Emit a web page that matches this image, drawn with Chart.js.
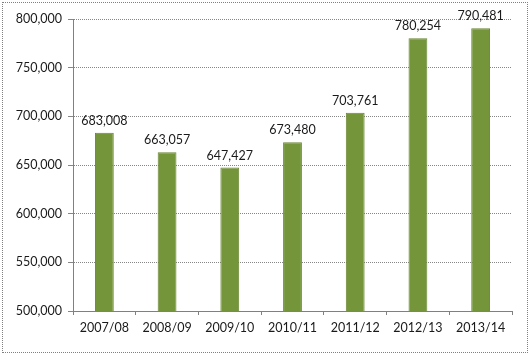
<!DOCTYPE html>
<html>
<head>
<meta charset="utf-8">
<script src="https://cdn.jsdelivr.net/npm/chart.js@4/dist/chart.umd.min.js"></script>
<style>
html,body{margin:0;padding:0;background:#fff;}
#wrap{position:absolute;left:0;top:0;width:530px;height:356px;}
#frame{position:absolute;left:2px;top:2px;width:524px;height:349px;border:1px dotted #808080;pointer-events:none;}
</style>
</head>
<body>
<div id="wrap"><canvas id="c" width="530" height="356"></canvas></div>
<div id="frame"></div>
<script>
const categories = ["2007/08","2008/09","2009/10","2010/11","2011/12","2012/13","2013/14"];
const values = [683008, 663057, 647427, 673480, 703761, 780254, 790481];
const yTicks = [500000, 550000, 600000, 650000, 700000, 750000, 800000];

const fmt = v => v.toLocaleString('en-US');

const labelPlugin = {
  id: 'valueLabels',
  afterDatasetsDraw(chart) {
    const ctx = chart.ctx;
    const meta = chart.getDatasetMeta(0);
    ctx.save();
    ctx.font = '12.5px Lato';
    ctx.fillStyle = '#1a1a1a';
    ctx.textAlign = 'center';
    ctx.textBaseline = 'middle';
    meta.data.forEach((bar, i) => {
      ctx.fillText(fmt(values[i]), bar.x, bar.y - 12);
    });
    ctx.restore();
  }
};

new Chart(document.getElementById('c'), {
  type: 'bar',
  data: {
    labels: categories,
    datasets: [{
      data: values,
      backgroundColor: '#74953a',
      borderColor: '#6a8634',
      borderWidth: 1,
      barPercentage: 0.3,
      categoryPercentage: 1.0
    }]
  },
  options: {
    responsive: false,
    animation: false,
    devicePixelRatio: 1,
    layout: { padding: { left: 0, right: 18, top: 19, bottom: 0 } },
    plugins: { legend: { display: false }, tooltip: { enabled: false } },
    scales: {
      x: {
        afterFit: s => { s.height = 45; },
        grid: { drawOnChartArea: false, drawTicks: true, tickLength: 4, color: '#808080', offset: true },
        border: { color: '#808080', dash: [1,1] },
        ticks: { color: '#1a1a1a', font: { family: 'Lato', size: 12.5 }, padding: 5, maxRotation: 0 }
      },
      y: {
        min: 500000, max: 800000,
        afterFit: s => { s.width = 73; },
        afterBuildTicks: s => { s.ticks = yTicks.map(v => ({ value: v })); },
        grid: { color: '#868686', lineWidth: 1, tickLength: 5, drawTicks: true },
        border: { color: '#808080', dash: [1,1] },
        ticks: { color: '#1a1a1a', font: { family: 'Lato', size: 12.5 }, padding: 6, callback: v => fmt(v) }
      }
    }
  },
  plugins: [labelPlugin]
});
</script>
</body>
</html>
